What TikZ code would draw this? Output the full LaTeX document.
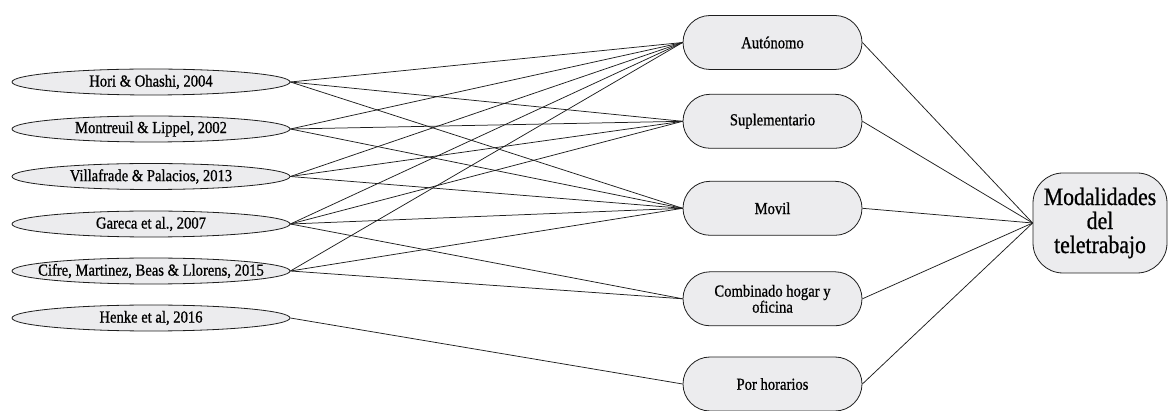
\documentclass[tikz,border=0pt]{standalone}
\usepackage{fontspec}
\setmainfont{Liberation Serif}[FakeStretch=0.87,FakeBold=0.8]
\usetikzlibrary{shapes.geometric}
\definecolor{boxfill}{RGB}{236,236,238}
\definecolor{edgecol}{RGB}{30,30,30}
\tikzset{
  src/.style={ellipse, draw=edgecol, fill=boxfill, line width=0.8pt, inner sep=0pt,
    minimum width=278pt, minimum height=26pt},
  srctext/.style={font=\fontsize{16.8}{16}\selectfont, inner sep=0pt},
  mode/.style={rectangle, rounded corners=27pt, draw=edgecol, fill=boxfill, line width=0.8pt,
    inner sep=0pt, minimum width=179pt, minimum height=54pt, align=center,
    font=\fontsize{16.8}{16}\selectfont},
  goal/.style={rectangle, rounded corners=30pt, draw=edgecol, fill=boxfill, line width=0.8pt,
    inner sep=0pt, minimum width=134pt, minimum height=100pt, align=center,
    font=\fontsize{25}{24}\selectfont},
  link/.style={draw=edgecol, line width=0.75pt}
}
\begin{document}
\begin{tikzpicture}[x=1pt,y=-1pt]
\useasboundingbox (0,0) rectangle (1170,411);
% sources
\node[src, label={[srctext]center:Hori \& Ohashi, 2004}] (h) at (151,82) {};
\node[src, label={[srctext]center:Montreuil \& Lippel, 2002}] (m) at (151,129) {};
\node[src, label={[srctext]center:Villafrade \& Palacios, 2013}] (v) at (151,176.5) {};
\node[src, label={[srctext]center:Gareca et al., 2007}] (g) at (151,224) {};
\node[src, label={[srctext]center:Cifre, Martinez, Beas \& Llorens, 2015}] (c) at (151,271) {};
\node[src, label={[srctext]center:Henke et al, 2016}] (he) at (151,318) {};
% modes
\node[mode] (a) at (772.5,42.5) {Autónomo};
\node[mode] (s) at (772.5,121.3) {Suplementario};
\node[mode] (mv) at (772.5,208.3) {Movil};
\node[mode] (co) at (772.5,298.8) {Combinado hogar y\\oficina};
\node[mode] (p) at (772.5,384) {Por horarios};
% goal
\node[goal] (mod) at (1100,223) {Modalidades\\del\\teletrabajo};
% links sources -> modes
\foreach \f/\t in {h/a,h/s,h/mv,m/a,m/s,m/mv,v/a,v/s,v/mv,g/a,g/s,g/mv,g/co,c/a,c/mv,c/co,he/p}
  \draw[link] (\f.east) -- (\t.west);
% links modes -> goal
\foreach \f in {a,s,mv,co,p}
  \draw[link] (\f.east) -- (mod.west);
\end{tikzpicture}
\end{document}
